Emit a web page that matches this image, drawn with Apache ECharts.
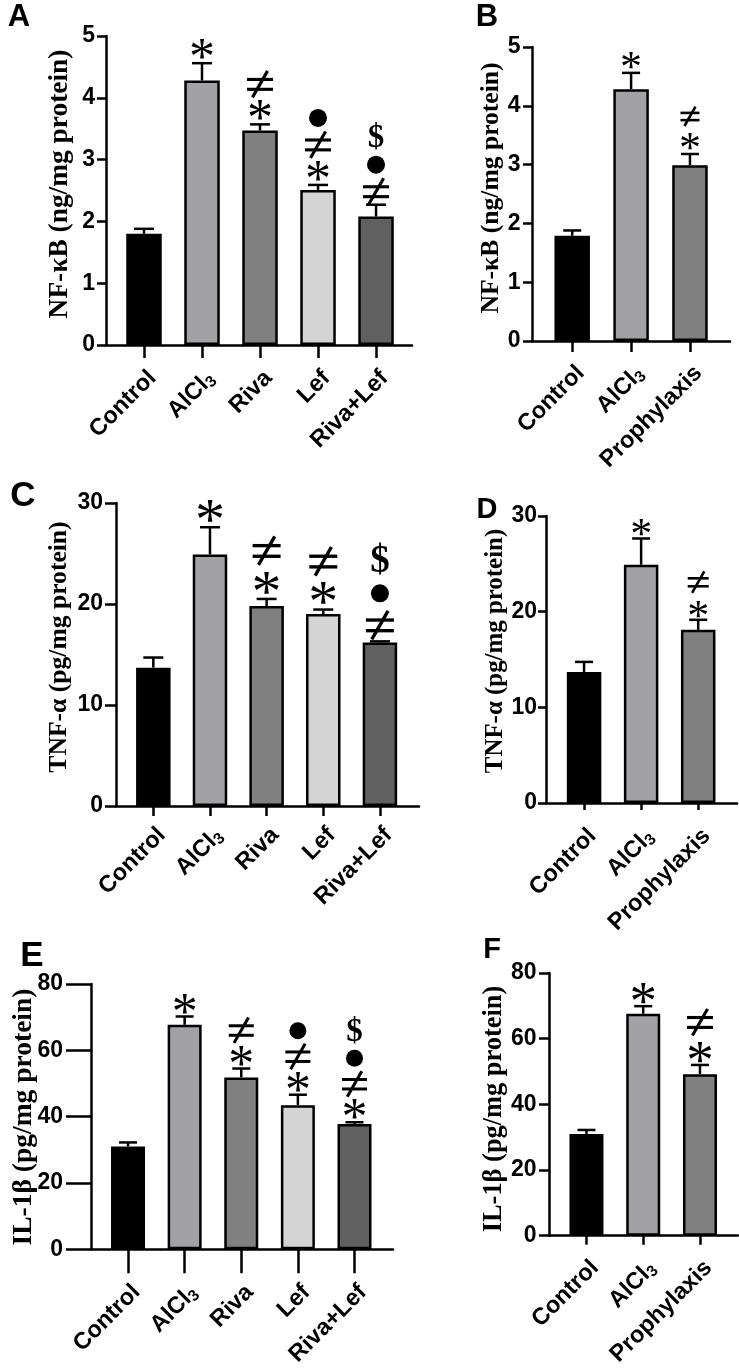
<!DOCTYPE html>
<html><head><meta charset="utf-8">
<script src="https://cdn.jsdelivr.net/npm/echarts@6/dist/echarts.min.js"></script>
<style>html,body{margin:0;padding:0;background:#fff}#c{width:739px;height:1369px}</style>
</head><body><div id="c"></div>
<script>
// ---------- data ----------
const groupsMain = ['Control', 'AlCl3', 'Riva', 'Lef', 'Riva+Lef'];
const groupsProph = ['Control', 'AlCl3', 'Prophylaxis'];
const colorsMain = ['#000000', '#a2a1a6', '#808080', '#d4d4d4', '#606060'];
const colorsProph = ['#000000', '#a2a1a6', '#808080'];

const nfkbMain = [1.80, 4.28, 3.47, 2.51, 2.08];
const nfkbMainSem = [0.08, 0.28, 0.10, 0.08, 0.19];
const nfkbProph = [1.79, 4.28, 2.99];
const nfkbProphSem = [0.09, 0.28, 0.19];
const tnfMain = [13.7, 24.9, 19.8, 19.0, 16.2];
const tnfMainSem = [1.0, 2.7, 0.7, 0.45, 0.1];
const tnfProph = [13.7, 24.9, 18.1];
const tnfProphSem = [1.05, 2.75, 1.05];
const il1bMain = [31.0, 67.7, 51.8, 43.4, 37.8];
const il1bMainSem = [1.2, 2.5, 2.7, 3.2, 0.5];
const il1bProph = [31.0, 67.6, 49.2];
const il1bProphSem = [1.2, 2.3, 2.8];

const sigA = [[], ['*'], ['*', '≠'], ['*', '≠', '●'], ['≠', '●', '$']];
const sigB = [[], ['*'], ['*', '≠']];
const sigC = [[], ['*'], ['*', '≠'], ['*', '≠'], ['≠', '●', '$']];
const sigD = [[], ['*'], ['*', '≠']];
const sigE = [[], ['*'], ['*', '≠'], ['*', '≠', '●'], ['*', '≠', '●', '$']];
const sigF = [[], ['*'], ['*', '≠']];

const nfkbTicks = [0, 1, 2, 3, 4, 5];
const tnfTicks = [0, 10, 20, 30];
const il1bTicks = [0, 20, 40, 60, 80];

const titleNfkb = 'NF-κB (ng/mg protein)';
const titleTnf = 'TNF-α (pg/mg protein)';
const titleIl1b = 'IL-1β (pg/mg protein)';

// ---------- layout / style ----------
const panels = [
  { letter: 'A', lx: 19, ly: 17, lsize: 31, cats: groupsMain, colors: colorsMain, vals: nfkbMain, sem: nfkbMainSem, sig: sigA, ticks: nfkbTicks, title: titleNfkb,
    tx: 60, ty: 184, tsize: 27.4,
    grid: { left: 106, top: 36, width: 306, height: 309 }, xmin: -0.655, xmax: 4.62, barW: 35.5, cap: 10,
    ytick: 9, ymargin: 11, xtick: 13, xmargin: 21,
    sym: { first: 13, step: 27, ast: 52, ne: 26, dol: 33, dot: 9 } },
  { letter: 'B', lx: 487, ly: 17, lsize: 31, cats: groupsProph, colors: colorsProph, vals: nfkbProph, sem: nfkbProphSem, sig: sigB, ticks: nfkbTicks, title: titleNfkb,
    tx: 491, ty: 188, tsize: 25.6,
    grid: { left: 532, top: 47, width: 198, height: 294 }, xmin: -0.683, xmax: 2.68, barW: 35.5, cap: 9,
    ytick: 9, ymargin: 11.5, xtick: 11, xmargin: 20,
    sym: { first: 12.5, step: 25, ast: 44, ne: 19, dol: 30, dot: 8 } },
  { letter: 'C', lx: 23, ly: 496, lsize: 35, cats: groupsMain, colors: colorsMain, vals: tnfMain, sem: tnfMainSem, sig: sigC, ticks: tnfTicks, title: titleTnf,
    tx: 59, ty: 647, tsize: 25.6,
    grid: { left: 116, top: 503, width: 303, height: 303 }, xmin: -0.659, xmax: 4.69, barW: 34.5, cap: 10,
    ytick: 11, ymargin: 13, xtick: 10, xmargin: 17,
    sym: { first: 16, step: 32, ast: 60, ne: 28, dol: 39, dot: 9 } },
  { letter: 'D', lx: 487, ly: 510, lsize: 29, cats: groupsProph, colors: colorsProph, vals: tnfProph, sem: tnfProphSem, sig: sigD, ticks: tnfTicks, title: titleTnf,
    tx: 496, ty: 651, tsize: 24.9,
    grid: { left: 546, top: 516, width: 191, height: 287 }, xmin: -0.667, xmax: 2.68, barW: 34.5, cap: 9,
    ytick: 8, ymargin: 9, xtick: 7, xmargin: 21,
    sym: { first: 10.5, step: 27, ast: 44, ne: 21, dol: 30, dot: 8 } },
  { letter: 'E', lx: 32, ly: 956, lsize: 35, cats: groupsMain, colors: colorsMain, vals: il1bMain, sem: il1bMainSem, sig: sigE, ticks: il1bTicks, title: titleIl1b,
    tx: 24, ty: 1117, tsize: 27.5,
    grid: { left: 91, top: 984, width: 302, height: 275 }, xmin: -0.654, xmax: 4.68, barW: 34, cap: 9,
    ytick: 25, ymargin: 28, xtick: 24, xmargin: 31,
    sym: { first: 12, step: 26, ast: 52, ne: 25, dol: 33, dot: 8.5 } },
  { letter: 'F', lx: 492, ly: 950, lsize: 29, cats: groupsProph, colors: colorsProph, vals: il1bProph, sem: il1bProphSem, sig: sigF, ticks: il1bTicks, title: titleIl1b,
    tx: 494, ty: 1109, tsize: 26.4,
    grid: { left: 549, top: 973, width: 189, height: 283 }, xmin: -0.66, xmax: 2.67, barW: 34, cap: 9,
    ytick: 10, ymargin: 12.5, xtick: 9, xmargin: 20,
    sym: { first: 12.5, step: 30, ast: 55, ne: 26, dol: 33, dot: 8.5 } }
];

const SANS = '"Liberation Sans", Arial, sans-serif';
const SERIF = '"Liberation Serif", "Times New Roman", serif';
const LW = 2.5;
const TICKFONT = 23;
const CATFONT = 23.5;

const grids = [], xAxes = [], yAxes = [], series = [], graphics = [];

panels.forEach((p, gi) => {
  grids.push(Object.assign({ containLabel: false }, p.grid));
  const idx = p.cats.map((_, i) => i);
  xAxes.push({
    gridIndex: gi, type: 'value', min: p.xmin, max: p.xmax,
    splitLine: { show: false },
    axisLine: { show: true, onZero: false, lineStyle: { color: '#000', width: LW } },
    axisTick: { show: true, customValues: idx, length: p.xtick, lineStyle: { color: '#000', width: LW } },
    axisLabel: {
      customValues: idx, rotate: 45, margin: p.xmargin, color: '#000', verticalAlign: 'top',
      fontFamily: SANS, fontWeight: 'bold', fontSize: CATFONT,
      formatter: v => {
        const s = p.cats[Math.round(v)] || '';
        return s === 'AlCl3' ? 'AlCl{sub|3}' : s;
      },
      rich: { sub: { fontSize: 16, fontWeight: 'bold', fontFamily: SANS, color: '#000', verticalAlign: 'bottom', padding: [10, 0, 0, 0] } }
    }
  });
  const tmax = p.ticks[p.ticks.length - 1];
  yAxes.push({
    gridIndex: gi, type: 'value', min: 0, max: tmax, interval: p.ticks[1] - p.ticks[0],
    splitLine: { show: false },
    axisLine: { show: true, onZero: false, lineStyle: { color: '#000', width: LW } },
    axisTick: { show: true, length: p.ytick, lineStyle: { color: '#000', width: LW } },
    axisLabel: { margin: p.ymargin, color: '#000', fontFamily: SANS, fontWeight: 'bold', fontSize: TICKFONT }
  });
  series.push({
    type: 'bar', xAxisIndex: gi, yAxisIndex: gi, barWidth: p.barW, silent: true,
    data: p.vals.map((v, i) => ({ value: [i, v], itemStyle: { color: p.colors[i], borderColor: '#000', borderWidth: LW } })),
    z: 2
  });
  series.push({
    type: 'custom', xAxisIndex: gi, yAxisIndex: gi, silent: true, z: 3,
    data: p.vals.map((v, i) => [i, v, p.sem[i]]),
    renderItem: (params, api) => {
      const i = api.value(0), v = api.value(1), e = api.value(2);
      const b = api.coord([i, v]);
      const t = api.coord([i, v + e]);
      const ch = [
        { type: 'line', shape: { x1: b[0], y1: b[1], x2: t[0], y2: t[1] }, style: { stroke: '#000', lineWidth: LW } },
        { type: 'line', shape: { x1: t[0] - p.cap, y1: t[1], x2: t[0] + p.cap, y2: t[1] }, style: { stroke: '#000', lineWidth: LW } }
      ];
      const s = p.sym;
      (p.sig[i] || []).forEach((m, k) => {
        const cx = t[0];
        const cy = t[1] - s.first - k * s.step;
        if (m === '●') {
          ch.push({ type: 'circle', shape: { cx: cx, cy: cy, r: s.dot }, style: { fill: '#000' } });
        } else if (m === '≠') {
          const w = s.ne, hw = w / 2, sep = w * 0.19, lw = Math.max(2.6, w * 0.12);
          const st = { stroke: '#000', lineWidth: lw };
          ch.push({ type: 'line', shape: { x1: cx - hw, y1: cy - sep, x2: cx + hw, y2: cy - sep }, style: st });
          ch.push({ type: 'line', shape: { x1: cx - hw, y1: cy + sep, x2: cx + hw, y2: cy + sep }, style: st });
          ch.push({ type: 'line', shape: { x1: cx + w * 0.29, y1: cy - w * 0.52, x2: cx - w * 0.29, y2: cy + w * 0.5 }, style: st });
        } else {
          const isAst = m === '*';
          const fs = isAst ? s.ast : s.dol;
          const dy = isAst ? fs * 0.2 : fs * 0.02;
          ch.push({ type: 'text', x: cx, y: cy + dy, style: { text: m, fill: '#000', font: (isAst ? 'normal ' : 'bold ') + fs + 'px ' + SERIF, align: 'center', verticalAlign: 'middle' } });
        }
      });
      return { type: 'group', children: ch };
    }
  });
  graphics.push({ type: 'text', x: p.lx, y: p.ly, style: { text: p.letter, fill: '#000', font: 'bold ' + p.lsize + 'px ' + SANS, align: 'center', verticalAlign: 'middle' } });
  graphics.push({ type: 'text', x: p.tx, y: p.ty, rotation: Math.PI / 2, style: { text: p.title, fill: '#000', font: 'bold ' + p.tsize + 'px ' + SERIF, align: 'center', verticalAlign: 'middle' } });
});

const chart = echarts.init(document.getElementById('c'), null, { renderer: 'canvas' });
chart.setOption({
  animation: false,
  backgroundColor: '#fff',
  grid: grids, xAxis: xAxes, yAxis: yAxes, series: series, graphic: graphics
});
</script></body></html>
